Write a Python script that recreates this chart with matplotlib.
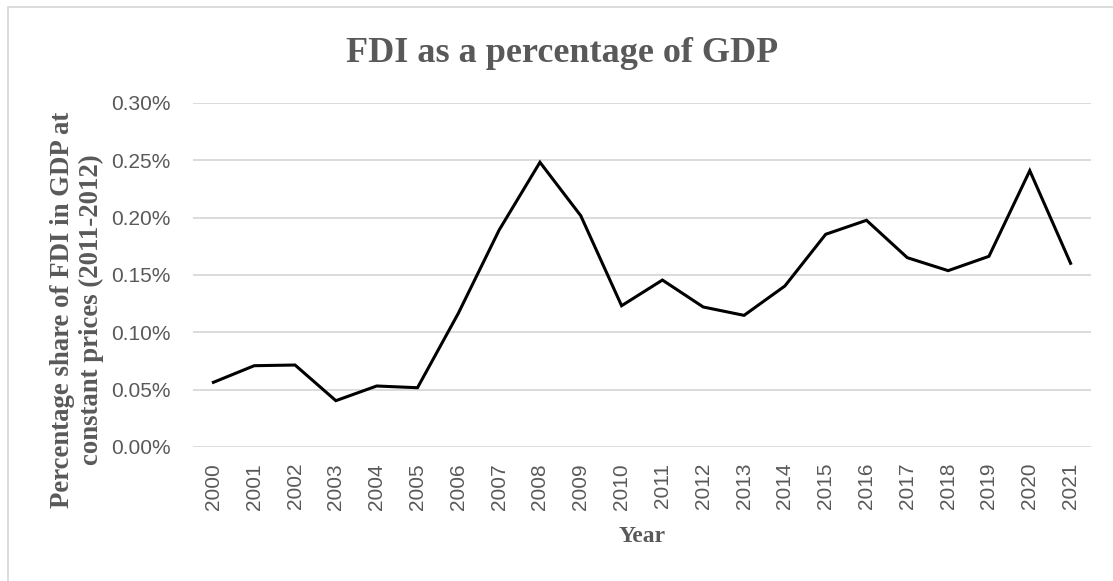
import matplotlib.pyplot as plt
from matplotlib.patches import Rectangle
from matplotlib.ticker import FuncFormatter

years = [str(y) for y in range(2000, 2022)]
fdi_share = [0.0564, 0.0709, 0.0715, 0.0404, 0.0532, 0.0517, 0.1166, 0.1892,
             0.2483, 0.2017, 0.1232, 0.1456, 0.1221, 0.1148, 0.1404, 0.1855,
             0.1977, 0.1651, 0.1538, 0.1663, 0.2410, 0.1602]

W, H = 1113, 581
grey = '#595959'
serif = ['Liberation Serif', 'DejaVu Serif']
sans = ['Liberation Sans', 'DejaVu Sans']

fig = plt.figure(figsize=(W / 100, H / 100), dpi=100)
ax = fig.add_axes([193 / W, 1 - 447 / H, (1091 - 193) / W, (447 - 103) / H])

# chart area border, running off the right and bottom edges
fig.patches.append(Rectangle((8 / W, -0.1), 1.2, 1 - 7 / H + 0.1,
                             transform=fig.transFigure, fill=False,
                             edgecolor='#d9d9d9', linewidth=1.3))

x = range(len(years))
ax.plot(x, fdi_share, color='black', linewidth=2.2, solid_joinstyle='miter')

ax.set_xlim(-0.5, len(years) - 0.5)
ax.set_ylim(0, 0.30)
ax.set_yticks([0, 0.05, 0.10, 0.15, 0.20, 0.25, 0.30])
ax.yaxis.set_major_formatter(FuncFormatter(lambda v, _: f'{v:.2f}%'))
ax.set_xticks(list(x))
ax.set_xticklabels(years, rotation=90)

ax.grid(axis='y', color='#d9d9d9', linewidth=1.3)
ax.set_axisbelow(True)
for s in ax.spines.values():
    s.set_visible(False)
ax.tick_params(length=0, colors=grey, labelsize=15)
ax.tick_params(axis='y', pad=16)
ax.tick_params(axis='x', pad=11.5)
for lab in ax.get_xticklabels() + ax.get_yticklabels():
    lab.set_family(sans)

fig.text(562 / W, 1 - 62 / H, 'FDI as a percentage of GDP', fontsize=26,
         fontweight='bold', color=grey, family=serif, ha='center',
         va='baseline')
ax.set_xlabel('Year', fontsize=17, fontweight='bold', color=grey,
              family=serif, labelpad=12)
ax.set_ylabel('Percentage share of FDI in GDP at\nconstant prices (2011-2012)',
              fontsize=19.3, fontweight='bold', color=grey, family=serif)
ax.yaxis.set_label_coords(-0.099, 0.398)

fig.savefig('out.png', dpi=100)
